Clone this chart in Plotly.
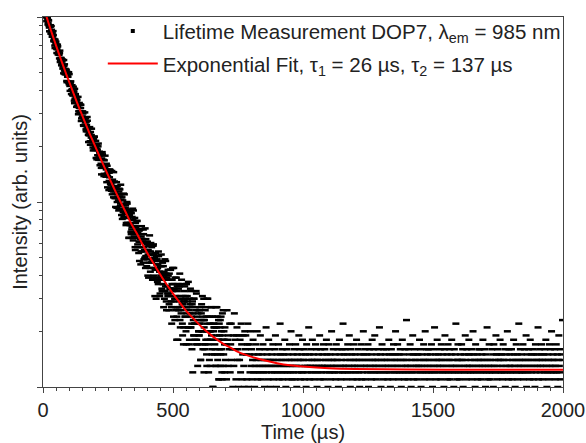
import plotly.graph_objects as go

# ---- data ----
T_STEP_US = 2  # sampling interval of the measurement (µs)

COUNTS_A = [  # t = 0 .. 398 µs (even samples)
    1162, 1092, 1133, 1077, 1112, 1018, 1023, 949, 1008, 972,
    925, 958, 877, 886, 886, 813, 893, 808, 823, 785,
    800, 737, 750, 679, 729, 736, 675, 669, 709, 627,
    650, 624, 639, 571, 597, 598, 558, 590, 526, 551,
    585, 513, 494, 524, 495, 519, 444, 476, 475, 443,
    433, 442, 399, 444, 426, 401, 428, 379, 391, 396,
    353, 409, 358, 373, 352, 367, 329, 341, 298, 335,
    343, 304, 305, 335, 283, 303, 288, 301, 258, 279,
    283, 258, 283, 241, 261, 288, 241, 231, 253, 235,
    254, 204, 230, 230, 211, 222, 197, 221, 204, 225,
    191, 199, 173, 205, 194, 179, 200, 169, 178, 184,
    169, 182, 153, 172, 186, 153, 159, 138, 168, 154,
    158, 137, 161, 142, 120, 144, 149, 130, 136, 119,
    148, 124, 128, 110, 132, 114, 145, 121, 105, 120,
    105, 118, 93, 122, 107, 102, 114, 91, 117, 98,
    103, 85, 106, 97, 88, 111, 82, 91, 86, 96,
    77, 90, 98, 77, 83, 64, 86, 89, 77, 69,
    87, 73, 64, 80, 90, 67, 74, 57, 77, 69,
    64, 79, 59, 67, 53, 70, 71, 61, 46, 65,
    67, 54, 61, 71, 49, 55, 60, 44, 63, 51,
]

COUNTS_B = [  # t = 400 .. 798 µs (even samples)
    49, 61, 52, 39, 54, 66, 44, 54, 47, 57,
    49, 39, 58, 44, 52, 31, 48, 39, 51, 43,
    37, 46, 54, 38, 42, 32, 48, 39, 45, 33,
    47, 36, 27, 42, 38, 33, 48, 29, 38, 35,
    31, 40, 26, 41, 34, 43, 31, 27, 36, 44,
    34, 24, 36, 30, 39, 26, 31, 18, 35, 27,
    36, 26, 29, 41, 21, 31, 26, 36, 22, 28,
    17, 29, 33, 24, 31, 20, 36, 25, 29, 21,
    27, 17, 30, 25, 21, 33, 22, 28, 12, 23,
    30, 19, 22, 27, 17, 32, 24, 17, 25, 20,
    19, 26, 22, 14, 23, 28, 17, 24, 20, 30,
    21, 16, 26, 18, 24, 13, 22, 30, 17, 20,
    14, 22, 18, 27, 19, 15, 24, 10, 20, 22,
    21, 16, 27, 13, 19, 24, 14, 18, 11, 22,
    16, 23, 15, 20, 12, 25, 18, 13, 20, 17,
    21, 14, 17, 11, 26, 18, 13, 19, 16, 22,
    12, 17, 22, 14, 16, 10, 19, 13, 25, 18,
    16, 11, 19, 21, 14, 16, 10, 19, 14, 18,
    12, 22, 17, 11, 15, 19, 13, 10, 20, 16,
    19, 15, 11, 17, 22, 10, 17, 15, 12, 20,
]

COUNTS_C = [  # t = 800 .. 1398 µs
    13, 16, 11, 14, 18, 12, 15, 10, 13, 17, 14, 12, 20, 11, 15, 13, 16, 12, 19, 14,
    11, 15, 13, 17, 12, 14, 10, 16, 13, 21, 12, 15, 14, 11, 18, 13, 16, 10, 14, 12,
    15, 13, 17, 11, 14, 12, 16, 19, 13, 10, 15, 12, 14, 17, 11, 13, 22, 15, 12, 14,
    16, 11, 13, 15, 12, 18, 14, 10, 13, 16, 12, 15, 11, 14, 17, 13, 12, 20, 14, 11,
    13, 15, 12, 16, 14, 11, 17, 13, 10, 15, 12, 14, 19, 13, 16, 11, 14, 12, 15, 18,
    12, 14, 16, 11, 13, 15, 10, 17, 13, 12, 14, 21, 15, 11, 13, 16, 12, 14, 18, 13,
    15, 11, 14, 12, 17, 13, 16, 10, 14, 12, 15, 13, 19, 11, 16, 14, 12, 13, 15, 17,
    11, 13, 16, 14, 12, 18, 15, 13, 10, 14, 17, 12, 15, 11, 13, 20, 14, 12, 16, 13,
    14, 12, 15, 11, 17, 13, 14, 16, 10, 12, 18, 15, 13, 11, 14, 16, 12, 22, 13, 15,
    12, 16, 13, 14, 11, 15, 17, 12, 13, 19, 14, 10, 16, 12, 15, 13, 11, 14, 17, 13,
    15, 12, 14, 18, 11, 13, 16, 12, 14, 10, 15, 13, 17, 11, 14, 12, 20, 15, 13, 16,
    11, 14, 13, 15, 12, 17, 10, 14, 16, 13, 12, 15, 11, 18, 14, 13, 16, 12, 19, 14,
    13, 11, 15, 12, 14, 16, 13, 21, 12, 15, 10, 14, 17, 13, 11, 16, 12, 14, 15, 13,
    16, 12, 14, 11, 13, 18, 15, 12, 10, 14, 16, 13, 15, 11, 17, 12, 14, 13, 20, 15,
    12, 14, 17, 13, 11, 15, 12, 16, 14, 10, 13, 18, 12, 15, 14, 11, 16, 13, 12, 23,
]

COUNTS_D = [  # t = 1400 .. 1998 µs
    14, 13, 11, 16, 12, 15, 17, 13, 10, 14, 12, 19, 15, 11, 13, 16, 14, 12, 15, 13,
    11, 15, 13, 14, 18, 12, 16, 10, 13, 15, 12, 14, 17, 11, 13, 20, 14, 12, 16, 15,
    13, 16, 12, 14, 11, 15, 13, 17, 12, 10, 14, 16, 13, 21, 12, 15, 11, 14, 18, 13,
    15, 12, 14, 13, 16, 11, 17, 14, 12, 15, 13, 10, 16, 19, 12, 14, 13, 15, 11, 17,
    12, 14, 16, 11, 13, 15, 18, 12, 14, 13, 10, 16, 12, 15, 22, 13, 11, 14, 17, 12,
    14, 11, 13, 15, 12, 17, 14, 16, 10, 13, 15, 12, 19, 14, 11, 16, 13, 12, 15, 18,
    13, 15, 12, 14, 16, 11, 13, 20, 12, 15, 14, 10, 17, 13, 12, 15, 11, 14, 16, 13,
    16, 12, 14, 11, 15, 13, 18, 12, 14, 16, 13, 10, 15, 12, 21, 14, 11, 13, 17, 12,
    11, 14, 13, 16, 12, 15, 10, 17, 13, 14, 12, 19, 15, 11, 16, 13, 14, 12, 15, 18,
    14, 12, 15, 13, 11, 17, 14, 12, 16, 10, 13, 15, 12, 20, 14, 11, 16, 13, 15, 12,
    13, 16, 11, 14, 12, 18, 15, 13, 10, 14, 17, 12, 15, 11, 13, 22, 14, 12, 16, 13,
    15, 12, 14, 17, 11, 13, 16, 12, 14, 19, 10, 15, 13, 12, 16, 14, 11, 18, 13, 15,
    12, 14, 16, 11, 15, 13, 10, 17, 12, 14, 15, 13, 21, 11, 14, 16, 12, 13, 15, 17,
    14, 11, 13, 15, 12, 16, 14, 18, 13, 10, 12, 15, 14, 11, 17, 13, 16, 12, 20, 14,
    13, 15, 12, 14, 16, 11, 13, 17, 12, 15, 10, 14, 19, 13, 12, 16, 11, 15, 14, 23,
]

COUNTS_ODD = [  # t = 1 .. 699 µs (odd samples)
    1127, 1161, 1116, 1024, 1058, 1000, 1068, 987, 993, 910,
    960, 896, 837, 889, 903, 834, 853, 782, 798, 839,
    745, 760, 701, 754, 705, 712, 639, 692, 694, 633,
    634, 597, 658, 584, 602, 548, 574, 585, 539, 496,
    544, 555, 490, 508, 490, 451, 505, 477, 447, 503,
    491, 424, 437, 449, 383, 405, 407, 376, 420, 395,
    342, 362, 383, 361, 327, 355, 327, 370, 309, 323,
    310, 337, 322, 274, 308, 290, 309, 260, 285, 261,
    305, 269, 247, 272, 250, 275, 253, 211, 229, 251,
    213, 239, 223, 249, 204, 218, 190, 218, 226, 196,
    193, 214, 201, 170, 191, 172, 207, 179, 187, 158,
    185, 161, 141, 169, 181, 156, 169, 142, 154, 178,
    139, 150, 128, 157, 138, 146, 116, 144, 150, 125,
    129, 115, 147, 116, 128, 106, 121, 129, 111, 94,
    120, 128, 100, 111, 106, 90, 118, 107, 95, 124,
    110, 92, 81, 102, 96, 83, 110, 88, 93, 75,
    90, 100, 77, 82, 91, 64, 85, 75, 90, 67,
    71, 83, 92, 62, 74, 65, 82, 55, 73, 68,
    79, 57, 68, 71, 61, 48, 71, 63, 54, 74,
    57, 63, 47, 67, 57, 50, 72, 51, 61, 45,
    59, 40, 55, 58, 47, 52, 42, 60, 47, 52,
    38, 48, 59, 40, 50, 43, 53, 30, 46, 49,
    44, 36, 51, 38, 31, 45, 40, 52, 34, 41,
    33, 45, 40, 30, 49, 35, 41, 26, 39, 32,
    43, 32, 28, 38, 34, 43, 29, 22, 38, 33,
    29, 44, 34, 23, 31, 27, 39, 24, 33, 18,
    34, 27, 35, 23, 30, 25, 38, 28, 19, 31,
    21, 29, 35, 24, 30, 17, 27, 31, 21, 37,
    26, 18, 28, 34, 21, 24, 16, 29, 25, 19,
    30, 22, 18, 26, 33, 18, 23, 13, 26, 20,
    19, 27, 22, 14, 25, 20, 31, 16, 23, 12,
    23, 17, 27, 20, 15, 30, 18, 24, 12, 20,
    24, 13, 20, 27, 16, 18, 10, 22, 21, 15,
    17, 24, 13, 21, 27, 15, 18, 23, 11, 19,
    21, 13, 24, 16, 11, 19, 26, 15, 18, 12,
]

FIT_T = [0, 10, 20, 30, 40, 50, 60, 70, 80, 90, 100, 120, 140, 160, 180, 200,
         220, 240, 260, 280, 300, 320, 340, 360, 380, 400, 425, 450, 475, 500,
         525, 550, 575, 600, 625, 650, 675, 700, 725, 750, 775, 800, 850, 900,
         950, 1000, 1100, 1200, 1400, 1700, 2000]
FIT_I = [1152, 1040, 940, 851, 773, 703, 640, 584, 534, 488, 448, 378, 320, 273,
         233, 201, 173, 150, 130, 113, 99, 87, 76, 68, 60, 53.3, 46.6, 40.7, 35.9,
         32.0, 28.7, 25.9, 23.7, 21.8, 20.2, 18.9, 17.8, 16.9, 16.2, 15.5, 15.0,
         14.6, 13.95, 13.45, 13.1, 12.9, 12.64, 12.52, 12.43, 12.4, 12.4]

X_TICKS = [0, 500, 1000, 1500, 2000]

LEGEND_DATA = "Lifetime Measurement DOP7, \u03bb<sub>em</sub> = 985 nm"
LEGEND_FIT = "Exponential Fit, \u03c4<sub>1</sub> = 26 \u00b5s, \u03c4<sub>2</sub> = 137 \u00b5s"

even_counts = COUNTS_A + COUNTS_B + COUNTS_C + COUNTS_D
times = [T_STEP_US * i for i in range(len(even_counts))]
times += [T_STEP_US * i + 1 for i in range(len(COUNTS_ODD))]
counts = even_counts + COUNTS_ODD

FONT = "Arial, Liberation Sans, sans-serif"
TXT = "#222222"

fig = go.Figure()
fig.add_trace(go.Scatter(
    x=times, y=counts, mode="markers", name=LEGEND_DATA,
    legendgroup="a", showlegend=False,
    marker=dict(symbol="line-ew", size=5, color="black",
                line=dict(color="black", width=2.5)),
))
# legend-only entry so the key shows a small square dot like the original
fig.add_trace(go.Scatter(
    x=[None], y=[None], mode="markers", name=LEGEND_DATA,
    legendgroup="a", showlegend=True,
    marker=dict(symbol="square", size=4, color="black"),
))
fig.add_trace(go.Scatter(
    x=FIT_T, y=FIT_I, mode="lines", name=LEGEND_FIT,
    legendgroup="b",
    line=dict(color="#ff0000", width=2, shape="spline", smoothing=0.6),
))

fig.update_layout(
    width=586, height=443,
    margin=dict(l=43, r=23, t=11, b=56),
    paper_bgcolor="white", plot_bgcolor="white",
    font=dict(family=FONT, size=20, color=TXT),
    showlegend=True,
    legend=dict(x=0.115, y=1.016, xanchor="left", yanchor="top",
                bgcolor="rgba(0,0,0,0)", borderwidth=0,
                font=dict(family=FONT, size=20.5, color=TXT),
                itemwidth=50, tracegroupgap=3, traceorder="grouped"),
)
fig.update_xaxes(
    range=[0, 2000], tickvals=X_TICKS, ticks="outside", ticklen=5,
    tickcolor="#444", showline=True, linecolor="#444", linewidth=1, mirror=True,
    showgrid=False, zeroline=False, automargin=False,
    tickfont=dict(size=20, color=TXT),
    minor=dict(ticks="outside", ticklen=3, dtick=50, tickcolor="#444", showgrid=False),
    title=dict(text="Time (\u00b5s)", font=dict(size=20, color=TXT), standoff=0),
)
fig.update_yaxes(
    type="log", range=[1, 3], dtick=1, ticks="outside", ticklen=5,
    tickcolor="#444", showticklabels=False,
    showline=True, linecolor="#444", linewidth=1, mirror=True,
    showgrid=False, zeroline=False, automargin=False,
    minor=dict(ticks="outside", ticklen=3, dtick="D1", tickcolor="#444", showgrid=False),
    title=dict(text="Intensity (arb. units)", font=dict(size=20, color=TXT), standoff=4),
)

fig.write_html("out.html")
